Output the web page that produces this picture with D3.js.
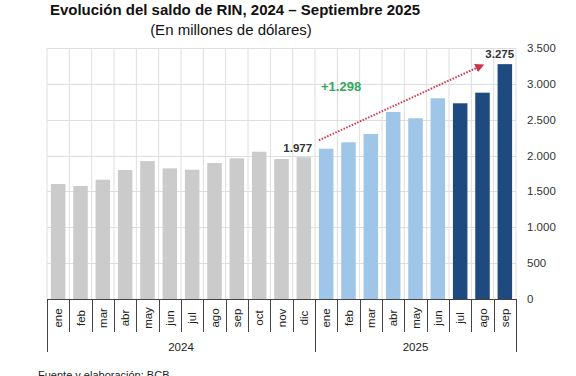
<!DOCTYPE html>
<html>
<head>
<meta charset="utf-8">
<script src="https://cdn.jsdelivr.net/npm/d3@7"></script>
<style>
  body { margin: 0; background: #fff; }
  svg { font-family: Arial, "Liberation Sans", sans-serif; display: block; }
</style>
</head>
<body>
<svg class="chart"></svg>
<script>
var months2024 = ["ene", "feb", "mar", "abr", "may", "jun", "jul", "ago", "sep", "oct", "nov", "dic"];
var months2025 = ["ene", "feb", "mar", "abr", "may", "jun", "jul", "ago", "sep"];
var values2024 = [1604, 1576, 1664, 1799, 1924, 1822, 1803, 1897, 1962, 2054, 1952, 1977];
var values2025 = [2096, 2185, 2301, 2608, 2520, 2799, 2729, 2877, 3275];
var years = ["2024", "2025"];
var yTicks = [0, 500, 1000, 1500, 2000, 2500, 3000, 3500];

function show() {
    'use strict';
    var width = 576, height = 376;
    var left = 47, right = 516, top = 48, bottom = 299;

    var svg = d3.select(".chart")
        .attr("width", width)
        .attr("height", height);

    var rows = [];
    months2024.forEach(function (m, i) { rows.push({key: "2024-" + m, month: m, year: "2024", value: values2024[i], idx: i}); });
    months2025.forEach(function (m, i) { rows.push({key: "2025-" + m, month: m, year: "2025", value: values2025[i], idx: i}); });

    var x = d3.scaleBand()
        .domain(rows.map(function (d) { return d.key; }))
        .range([left, right])
        .paddingInner(0.35)
        .paddingOuter(0.175);
    var step = x.step();
    var edge = function (k) { return x(k) - step * 0.175; };

    var y = d3.scaleLinear().domain([0, 3500]).range([bottom, top]);

    // grid
    var grid = svg.append("g").attr("stroke", "#dedede").attr("stroke-width", 1);
    grid.selectAll("line.h").data(yTicks.slice(1)).enter().append("line")
        .attr("x1", left).attr("x2", right)
        .attr("y1", function (d) { return Math.round(y(d)) + 0.5; })
        .attr("y2", function (d) { return Math.round(y(d)) + 0.5; });
    grid.selectAll("line.v").data(rows.slice(1)).enter().append("line")
        .attr("x1", function (d) { return edge(d.key); })
        .attr("x2", function (d) { return edge(d.key); })
        .attr("y1", top).attr("y2", bottom);
    grid.append("line").attr("x1", right).attr("x2", right).attr("y1", top).attr("y2", bottom);
    grid.append("line").attr("x1", left).attr("x2", left).attr("y1", top).attr("y2", bottom);

    var color = function (d) {
        if (d.year === "2024") return "#cbcbcb";
        return d.idx < 6 ? "#9fc5e8" : "#1f4a7f";
    };

    svg.append("g").selectAll("rect").data(rows).enter().append("rect")
        .attr("x", function (d) { return x(d.key); })
        .attr("width", x.bandwidth())
        .attr("y", function (d) { return y(d.value); })
        .attr("height", function (d) { return y(0) - y(d.value); })
        .attr("fill", color);

    // right axis labels
    svg.append("g").selectAll("text").data(yTicks).enter().append("text")
        .attr("x", 527)
        .attr("y", function (d) { return y(d); })
        .attr("dy", "0.35em")
        .attr("font-size", 11.5)
        .attr("fill", "#333")
        .text(function (d) { return d3.format(",")(d).replace(/,/g, "."); });

    // category axis
    var ax = svg.append("g").attr("stroke", "#444").attr("stroke-width", 1);
    ax.append("line").attr("x1", left).attr("x2", right).attr("y1", bottom + 0.5).attr("y2", bottom + 0.5);
    ax.selectAll("line.t").data(rows).enter().append("line")
        .attr("x1", function (d) { return Math.round(edge(d.key)) + 0.5; })
        .attr("x2", function (d) { return Math.round(edge(d.key)) + 0.5; })
        .attr("y1", bottom)
        .attr("y2", function (d) { return d.idx === 0 ? 352 : 332; });
    ax.append("line").attr("x1", right + 0.5).attr("x2", right + 0.5).attr("y1", bottom).attr("y2", 352);

    svg.append("g").selectAll("text").data(rows).enter().append("text")
        .attr("transform", function (d) {
            return "translate(" + (x(d.key) + x.bandwidth() / 2 + 4) + ",318) rotate(-90)";
        })
        .attr("text-anchor", "middle")
        .attr("font-size", 11.5)
        .attr("fill", "#222")
        .text(function (d) { return d.month; });

    svg.append("g").selectAll("text").data(years).enter().append("text")
        .attr("x", function (yr) {
            var ks = rows.filter(function (d) { return d.year === yr; });
            var a = edge(ks[0].key), b = edge(ks[ks.length - 1].key) + step;
            return (a + b) / 2;
        })
        .attr("y", 351)
        .attr("text-anchor", "middle")
        .attr("font-size", 11.5)
        .attr("fill", "#222")
        .text(function (yr) { return yr; });

    // annotations
    var dic = rows[11], last = rows[rows.length - 1];
    svg.append("text")
        .attr("x", x(dic.key) + x.bandwidth() + 1)
        .attr("y", y(dic.value) - 5)
        .attr("text-anchor", "end")
        .attr("font-size", 11.5).attr("font-weight", "bold").attr("fill", "#333")
        .text("1.977");
    svg.append("text")
        .attr("x", x(last.key) + x.bandwidth() + 2)
        .attr("y", y(last.value) - 6)
        .attr("text-anchor", "end")
        .attr("font-size", 11.5).attr("font-weight", "bold").attr("fill", "#333")
        .text("3.275");
    svg.append("text")
        .attr("x", 321)
        .attr("y", 91)
        .attr("font-size", 13).attr("font-weight", "bold").attr("fill", "#33a85c")
        .text("+1.298");

    svg.append("defs").append("marker")
        .attr("id", "arr").attr("viewBox", "0 0 10 10")
        .attr("refX", 8).attr("refY", 5)
        .attr("markerWidth", 4.5).attr("markerHeight", 4.5)
        .attr("orient", "auto")
        .append("path").attr("d", "M0,0 L10,5 L0,10 z").attr("fill", "#d0324b");

    svg.append("line")
        .attr("x1", edge(rows[12].key) + 4).attr("y1", y(dic.value) - 17)
        .attr("x2", x(last.key) - 15).attr("y2", y(last.value) + 1)
        .attr("stroke", "#d0324b").attr("stroke-width", 2)
        .attr("stroke-dasharray", "1.5,1.5")
        .attr("marker-end", "url(#arr)");

    // titles
    svg.append("text").attr("x", 235).attr("y", 15)
        .attr("text-anchor", "middle").attr("font-size", 15).attr("font-weight", "bold").attr("fill", "#111")
        .text("Evolución del saldo de RIN, 2024 – Septiembre 2025");
    svg.append("text").attr("x", 231).attr("y", 35)
        .attr("text-anchor", "middle").attr("font-size", 15).attr("fill", "#111")
        .text("(En millones de dólares)");

    svg.append("text").attr("x", 38).attr("y", 379)
        .attr("font-size", 11).attr("fill", "#222")
        .text("Fuente y elaboración: BCB");
}
show();
</script>
</body>
</html>
